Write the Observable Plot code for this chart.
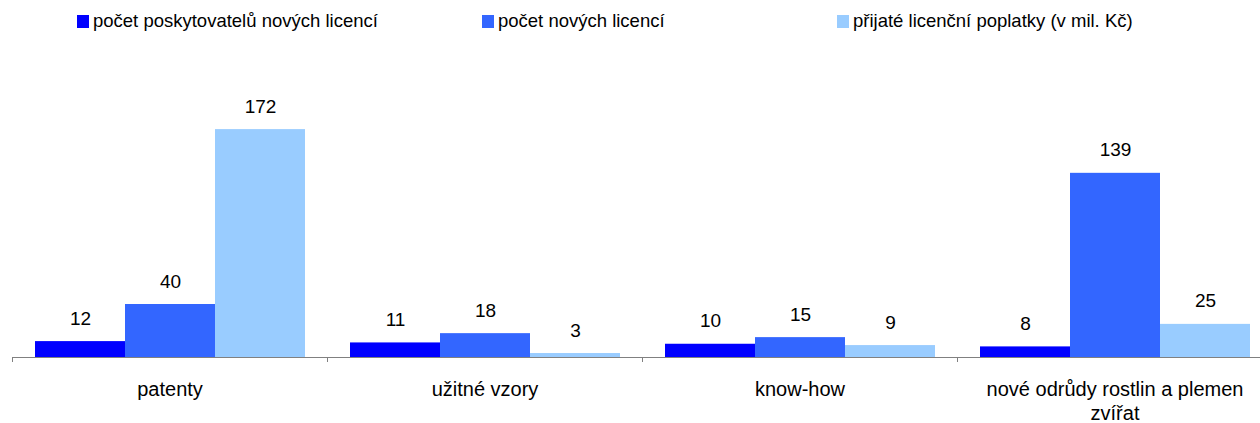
<!DOCTYPE html>
<html>
<head>
<meta charset="utf-8">
<script src="https://cdn.jsdelivr.net/npm/d3@7"></script>
<script src="https://cdn.jsdelivr.net/npm/@observablehq/plot@0.6"></script>
<style>
  html, body { margin: 0; padding: 0; background: #fff; overflow: hidden; width: 1260px; height: 423px; }
  body { font-family: "Liberation Sans", Arial, sans-serif; }
  #legend { position: relative; width: 1260px; height: 44px; }
  .item { position: absolute; top: 9px; display: flex; align-items: center; font-size: 18.5px; color: #000; white-space: nowrap; line-height: 24px; }
  .item:nth-child(1) { left: 77px; }
  .item:nth-child(2) { left: 482px; }
  .item:nth-child(3) { left: 837px; }
  .sw { width: 12px; height: 13px; margin-right: 4px; }
  #chart svg { display: block; }
</style>
</head>
<body>
<div id="legend"></div>
<div id="chart"></div>
<script>
const categories = ["patenty", "užitné vzory", "know-how", "nové odrůdy rostlin a plemen zvířat"];
const series = ["počet poskytovatelů nových licencí", "počet nových licencí", "přijaté licenční poplatky (v mil. Kč)"];
const providers = [12, 11, 10, 8];
const licences = [40, 18, 15, 139];
const fees = [172, 3, 9, 25];
const colors = ["#0000FF", "#3366FF", "#99CCFF"];

const seriesValues = [providers, licences, fees];
const data = categories.flatMap((c, i) =>
  series.map((s, j) => ({category: c, series: s, value: seriesValues[j][i]}))
);

const legend = document.getElementById("legend");
series.forEach((s, j) => {
  const it = document.createElement("div");
  it.className = "item";
  const sw = document.createElement("span");
  sw.className = "sw";
  sw.style.background = colors[j];
  const t = document.createElement("span");
  t.textContent = s;
  it.appendChild(sw);
  it.appendChild(t);
  legend.appendChild(it);
});

const chart = Plot.plot({
  width: 1260,
  height: 379,
  marginTop: 48,
  marginBottom: 66,
  marginLeft: 12,
  marginRight: -12,
  style: {fontFamily: "Liberation Sans, Arial, sans-serif", color: "#000", background: "#fff"},
  fx: {domain: categories, padding: 0, label: null},
  x: {domain: series, paddingInner: 0, paddingOuter: 0.25, axis: null},
  y: {domain: [0, 200], axis: null},
  color: {domain: series, range: colors},
  marks: [
    Plot.barY(data, {fx: "category", x: "series", y: "value", fill: "series"}),
    Plot.ruleY([0], {stroke: "#808080", strokeWidth: 1}),
    Plot.text(data, {fx: "category", x: "series", y: "value", text: d => String(d.value), dy: -23, fontSize: 19, fill: "#000", lineAnchor: "middle"}),
    Plot.axisFx({anchor: "bottom", tickSize: 0, tickPadding: 21, fontSize: 20, lineWidth: 14, lineHeight: 1.2, label: null}),
    Plot.axisFx({anchor: "bottom", tickSize: 5, tickFormat: () => "", dx: -157.5, stroke: "#808080", label: null})
  ]
});
document.getElementById("chart").appendChild(chart);
</script>
</body>
</html>
